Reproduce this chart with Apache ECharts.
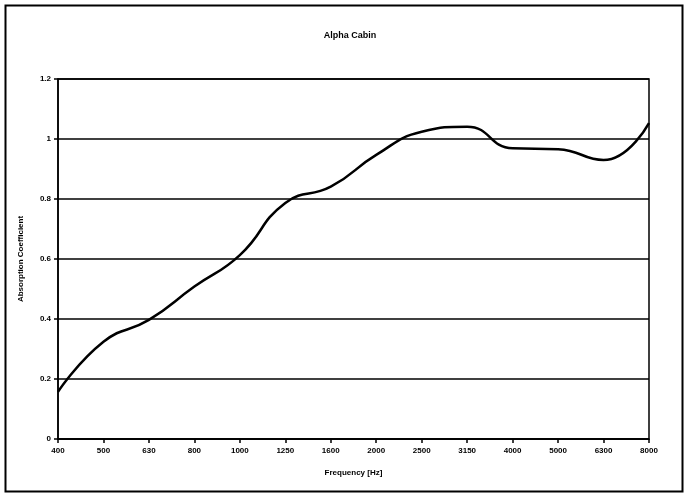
<!DOCTYPE html>
<html><head><meta charset="utf-8">
<script src="https://cdn.jsdelivr.net/npm/echarts@6/dist/echarts.min.js"></script>
<style>html,body{margin:0;padding:0;background:#fff}#c{width:688px;height:495px}</style>
</head><body><div id="c"></div>
<script>
const categories = ['400','500','630','800','1000','1250','1600','2000','2500','3150','4000','5000','6300','8000'];
const absorption = [0.157, 0.324, 0.397, 0.508, 0.613, 0.787, 0.841, 0.947, 1.024, 1.041, 0.969, 0.966, 0.93, 1.053];
const yTicks = [0, 0.2, 0.4, 0.6, 0.8, 1, 1.2];
const titleText = 'Alpha Cabin';
const xName = 'Frequency [Hz]';
const yName = 'Absorption Coefficient';

const font = 'Liberation Sans Narrow, Liberation Sans, Arial, sans-serif';
const chart = echarts.init(document.getElementById('c'), null, {renderer: 'canvas'});
chart.setOption({
  animation: false,
  backgroundColor: '#fff',
  graphic: [{type: 'rect', shape: {x: 5.5, y: 5.5, width: 677, height: 486}, style: {fill: 'none', stroke: '#000', lineWidth: 2}, silent: true}],
  title: {text: titleText, left: 345, top: 26, textAlign: 'center',
    textStyle: {fontFamily: font, fontSize: 9, fontWeight: 'bold', color: '#000'}},
  grid: {left: 58, right: 39, top: 79, bottom: 56, show: true, borderColor: '#000', borderWidth: 1.5},
  xAxis: {
    type: 'category', data: categories, boundaryGap: false,
    name: xName, nameLocation: 'middle', nameGap: 30,
    nameTextStyle: {fontFamily: font, fontSize: 8, fontWeight: 'bold', color: '#000'},
    axisLine: {lineStyle: {color: '#000', width: 1.5}},
    axisTick: {show: true, alignWithLabel: true, length: 4, lineStyle: {color: '#000', width: 1.5}},
    axisLabel: {fontFamily: font, fontSize: 8, fontWeight: 'bold', color: '#000', margin: 8, interval: 0},
    splitLine: {show: false}
  },
  yAxis: {
    type: 'value', min: 0, max: 1.2, interval: 0.2,
    name: yName, nameLocation: 'middle', nameGap: 33, nameRotate: 90,
    nameTextStyle: {fontFamily: font, fontSize: 8, fontWeight: 'bold', color: '#000'},
    axisLine: {show: true, lineStyle: {color: '#000', width: 1.5}},
    axisTick: {show: true, length: 4, lineStyle: {color: '#000', width: 1.5}},
    axisLabel: {fontFamily: font, fontSize: 8, fontWeight: 'bold', color: '#000', margin: 7,
      formatter: v => { const t = yTicks.find(k => Math.abs(k - v) < 1e-9); return String(+(t ?? v).toFixed(1)); }},
    splitLine: {show: true, lineStyle: {color: '#000', width: 1.5}}
  },
  series: [{
    type: 'line', data: absorption, smooth: 0.5, symbol: 'none',
    lineStyle: {color: '#000', width: 2.5}
  }]
});
</script></body></html>
